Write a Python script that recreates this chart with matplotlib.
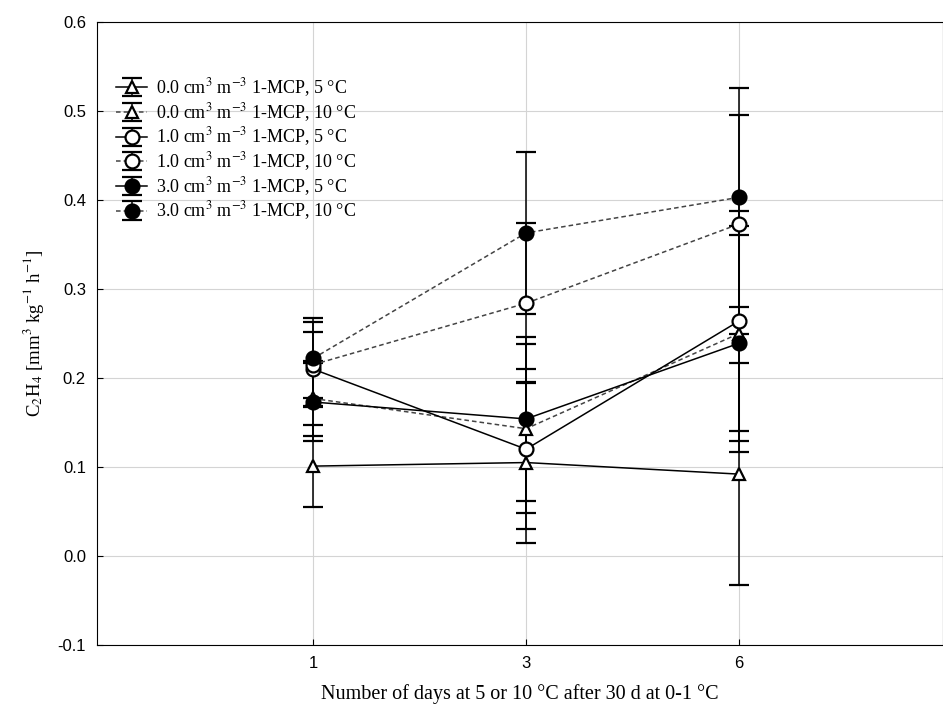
import numpy as np
import matplotlib.pyplot as plt

plt.rcParams['mathtext.fontset'] = 'stix'

# days after storage (categorical positions)
days = ['1', '3', '6']
x = np.arange(len(days))

labels = [
    '0.0 cm$^3$ m$^{-3}$ 1-MCP, 5 °C',
    '0.0 cm$^3$ m$^{-3}$ 1-MCP, 10 °C',
    '1.0 cm$^3$ m$^{-3}$ 1-MCP, 5 °C',
    '1.0 cm$^3$ m$^{-3}$ 1-MCP, 10 °C',
    '3.0 cm$^3$ m$^{-3}$ 1-MCP, 5 °C',
    '3.0 cm$^3$ m$^{-3}$ 1-MCP, 10 °C',
]

# mean ethylene production per series
c0_5 = [0.101, 0.105, 0.092]
c0_10 = [0.177, 0.143, 0.250]
c1_5 = [0.210, 0.120, 0.264]
c1_10 = [0.215, 0.284, 0.373]
c3_5 = [0.173, 0.154, 0.239]
c3_10 = [0.222, 0.363, 0.403]

# error bar half-widths
e0_5 = [0.046, 0.090, 0.125]
e0_10 = [0.042, 0.095, 0.121]
e1_5 = [0.042, 0.090, 0.124]
e1_10 = [0.048, 0.090, 0.123]
e3_5 = [0.044, 0.092, 0.122]
e3_10 = [0.045, 0.091, 0.123]

means = [c0_5, c0_10, c1_5, c1_10, c3_5, c3_10]
errs = [e0_5, e0_10, e1_5, e1_10, e3_5, e3_10]
markers = ['^', '^', 'o', 'o', 'o', 'o']
fills = ['white', 'white', 'white', 'white', 'black', 'black']
dashed = [False, True, False, True, False, True]

fig = plt.figure(figsize=(9.43, 7.17), dpi=100)
ax = fig.add_axes([97 / 943, 72 / 717, 846 / 943, 623 / 717])

for m, e, mk, fc, d, lab in zip(means, errs, markers, fills, dashed, labels):
    ms = 9 if mk == '^' else 10
    ax.errorbar(x, m, yerr=e, marker=mk, ms=ms, mfc=fc, mec='black', mew=1.6,
                color='#444444' if d else 'black', ecolor='black',
                elinewidth=1.1, capsize=7.5, capthick=1.1, lw=1.1,
                ls=(0, (3, 2)) if d else '-', label=lab, zorder=3)

ax.set_xlim(-1.015, 2.958)
ax.set_ylim(-0.1, 0.6)
ax.set_xticks(x)
ax.set_xticklabels(days, family='Liberation Sans', fontsize=12)
yt = np.arange(-0.1, 0.61, 0.1)
ax.set_yticks(yt)
ax.set_yticklabels(['%.1f' % v for v in yt], family='Liberation Sans', fontsize=12)
ax.grid(True, color='#d4d4d4', lw=0.8)
ax.set_axisbelow(True)
ax.tick_params(direction='in', length=4, pad=8)

ax.set_xlabel('Number of days at 5 or 10 °C after 30 d at 0-1 °C',
              family='Liberation Serif', fontsize=14.5, labelpad=9)
ax.set_ylabel('C$_2$H$_4$ [mm$^3$ kg$^{-1}$ h$^{-1}$]',
              family='Liberation Serif', fontsize=13.5, labelpad=8)

ax.legend(loc='upper left', bbox_to_anchor=(0.01, 0.93), frameon=False,
          prop={'family': 'Liberation Serif', 'size': 13},
          labelspacing=0.1, handlelength=1.7, handletextpad=0.5,
          borderaxespad=0.2)

plt.savefig('out.png')
